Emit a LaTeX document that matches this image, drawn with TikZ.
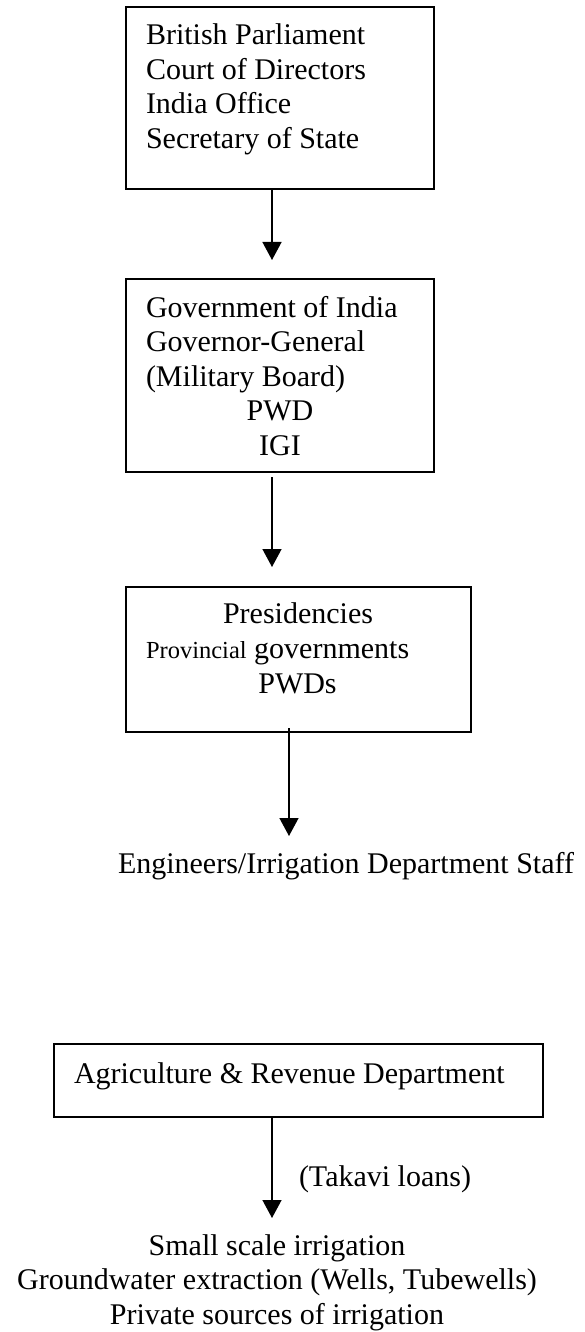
\documentclass[tikz,border=0pt]{standalone}
\usepackage{fontspec}
\setmainfont{Liberation Serif}
\usetikzlibrary{arrows.meta}
\tikzset{
  box/.style={draw, rectangle, line width=1.4pt, inner sep=0pt, outer sep=0pt},
  txt/.style={inner sep=0pt, outer sep=0pt, font=\fontsize{30}{34.5}\selectfont},
  arr/.style={line width=1.4pt, -{Triangle[width=19pt,length=18pt]}},
}
\newcommand{\smalltxt}{\fontsize{24.5}{28}\selectfont}
\begin{document}
\begin{tikzpicture}[x=1pt,y=-1pt]
\useasboundingbox (0,0) rectangle (584,1332);
% boxes
\node[box, minimum width=308pt, minimum height=182pt] (b1) at (280,98) {};
\node[box, minimum width=308pt, minimum height=193pt] (b2) at (280,375.5) {};
\node[box, minimum width=345pt, minimum height=145pt] (b3) at (298.5,659.5) {};
\node[box, minimum width=489pt, minimum height=73pt] (b4) at (298.5,1080.5) {};
% box 1 text
\node[txt, anchor=base west] (t1a) at (146,45) {British Parliament};
\node[txt, anchor=base west] (t1b) at (146,79.5) {Court of Directors};
\node[txt, anchor=base west] (t1c) at (146,114) {India Office};
\node[txt, anchor=base west] (t1d) at (146,148.5) {Secretary of State};
% box 2 text
\node[txt, anchor=base west] (t2a) at (146,317) {Government of India};
\node[txt, anchor=base west] (t2b) at (146,351.5) {Governor-General};
\node[txt, anchor=base west] (t2c) at (146,386) {(Military Board)};
\node[txt, anchor=base] (t2d) at (280,420.5) {PWD};
\node[txt, anchor=base] (t2e) at (280,455) {IGI};
% box 3 text
\node[txt, anchor=base] (t3a) at (298,623) {Presidencies};
\node[txt, anchor=base west] (t3b) at (146,658) {{\smalltxt Provincial} governments};
\node[txt, anchor=base] (t3c) at (297.5,693) {PWDs};
% engineers
\node[txt, anchor=base west] (e1) at (118,873) {Engineers/Irrigation Department Staff};
% box 4 text
\node[txt, anchor=base west] (t4) at (74,1083) {Agriculture \& Revenue Department};
\node[txt, anchor=base west] (tk) at (299,1186) {(Takavi loans)};
% bottom lines
\node[txt, anchor=base] (s1) at (277,1255) {Small scale irrigation};
\node[txt, anchor=base] (s2) at (277,1289.5) {Groundwater extraction (Wells, Tubewells)};
\node[txt, anchor=base] (s3) at (277,1324) {Private sources of irrigation};
% free arrow ends
\coordinate (a3) at (289,836);
\coordinate (a4) at (272,1218);
% arrows
\draw[arr] ([xshift=-8pt]b1.south) -- ([xshift=-8pt,yshift=19pt]b2.north);
\draw[arr] ([xshift=-8pt,yshift=-5pt]b2.south) -- ([xshift=-26.5pt,yshift=20pt]b3.north);
\draw[arr] ([xshift=-9.5pt,yshift=4pt]b3.south) -- (a3);
\draw[arr] ([xshift=-26.5pt]b4.south) -- (a4);
\end{tikzpicture}
\end{document}
